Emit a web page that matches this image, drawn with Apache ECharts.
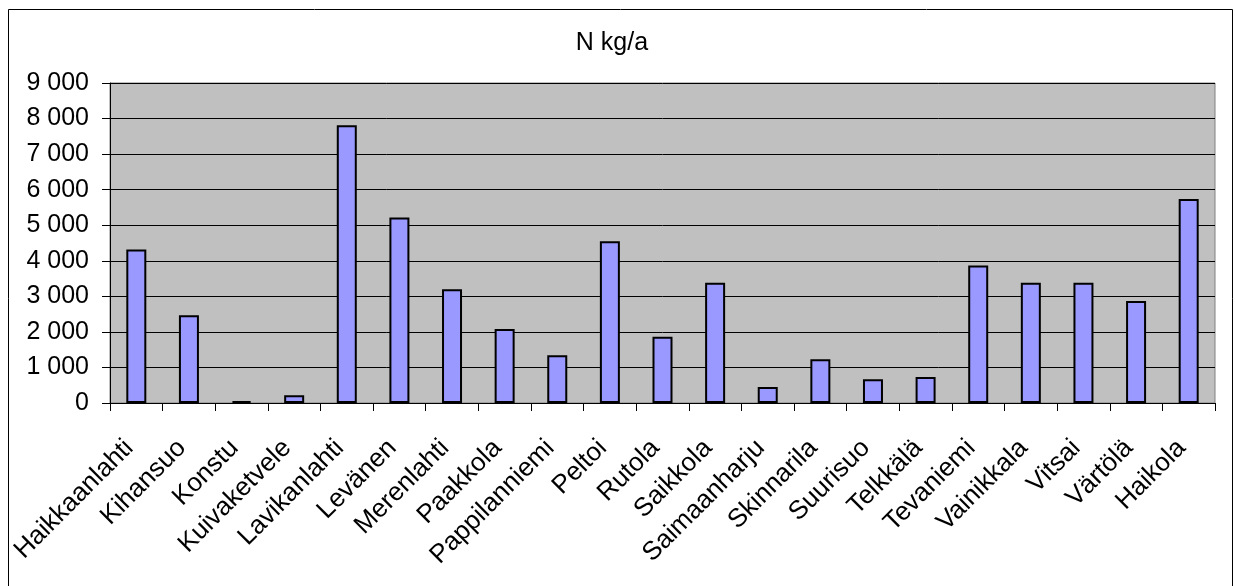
<!DOCTYPE html>
<html>
<head>
<meta charset="utf-8">
<title>N kg/a</title>
<script src="https://cdn.jsdelivr.net/npm/echarts@6/dist/echarts.min.js"></script>
<style>
  html, body { margin: 0; padding: 0; background: #ffffff; }
  #chart { width: 1235px; height: 586px; }
</style>
</head>
<body>
<div id="chart"></div>
<script>
// Nitrogen load per site (kg/a)
const sites = [
  'Haikkaanlahti', 'Kihansuo', 'Konstu', 'Kuivaketvele', 'Lavikanlahti',
  'Levänen', 'Merenlahti', 'Paakkola', 'Pappilanniemi', 'Peltoi',
  'Rutola', 'Saikkola', 'Saimaanharju', 'Skinnarila', 'Suurisuo',
  'Telkkälä', 'Tevaniemi', 'Vainikkala', 'Vitsai', 'Värtölä', 'Haikola'
];
const nitrogen = [
  4320, 2470, 50, 220, 7810,
  5220, 3200, 2080, 1340, 4550,
  1860, 3380, 450, 1230, 670,
  730, 3870, 3380, 3380, 2870, 5740
];
const yMin = 0;
const yMax = 9000;
const yStep = 1000;

const FONT = "'Liberation Sans', Arial, sans-serif";

// thousands separated by a space: 9 000
function fmt(v) {
  return String(v).replace(/\B(?=(\d{3})+(?!\d))/g, ' ');
}

const chart = echarts.init(document.getElementById('chart'), null, { renderer: 'canvas' });

chart.setOption({
  backgroundColor: '#ffffff',
  animation: false,
  title: {
    text: 'N kg/a',
    left: 612,
    top: 31,
    textAlign: 'center',
    padding: 0,
    textStyle: { fontSize: 25, fontWeight: 'normal', fontFamily: FONT, color: '#000000' }
  },
  graphic: [{
    type: 'rect',
    silent: true,
    shape: { x: 8.5, y: 9.5, width: 1224, height: 700 },
    style: { fill: 'none', stroke: '#000000', lineWidth: 1 }
  }],
  grid: {
    left: 110,
    right: 20,
    top: 83,
    bottom: 183,
    show: true,
    backgroundColor: '#C0C0C0',
    borderColor: '#808080',
    borderWidth: 1
  },
  xAxis: {
    type: 'category',
    data: sites,
    boundaryGap: true,
    axisLine: { show: true, lineStyle: { color: '#000000', width: 1 } },
    axisTick: { show: true, length: 8, inside: false, lineStyle: { color: '#000000' } },
    axisLabel: {
      interval: 0,
      rotate: 45,
      margin: 34,
      padding: [0, 10, 0, 0],
      fontSize: 26,
      fontFamily: FONT,
      color: '#000000'
    },
    splitLine: { show: false }
  },
  yAxis: {
    type: 'value',
    min: yMin,
    max: yMax,
    interval: yStep,
    axisLine: { show: true, lineStyle: { color: '#000000', width: 1 } },
    axisTick: { show: true, length: 8, inside: false, lineStyle: { color: '#000000' } },
    axisLabel: {
      margin: 21,
      fontSize: 25,
      fontFamily: FONT,
      color: '#000000',
      formatter: fmt
    },
    splitLine: { show: true, lineStyle: { color: '#000000', width: 1 } }
  },
  series: [{
    name: 'N kg/a',
    type: 'bar',
    data: nitrogen,
    barWidth: 20,
    itemStyle: { color: '#9999FF', borderColor: '#000000', borderWidth: 2 }
  }]
});
</script>
</body>
</html>
